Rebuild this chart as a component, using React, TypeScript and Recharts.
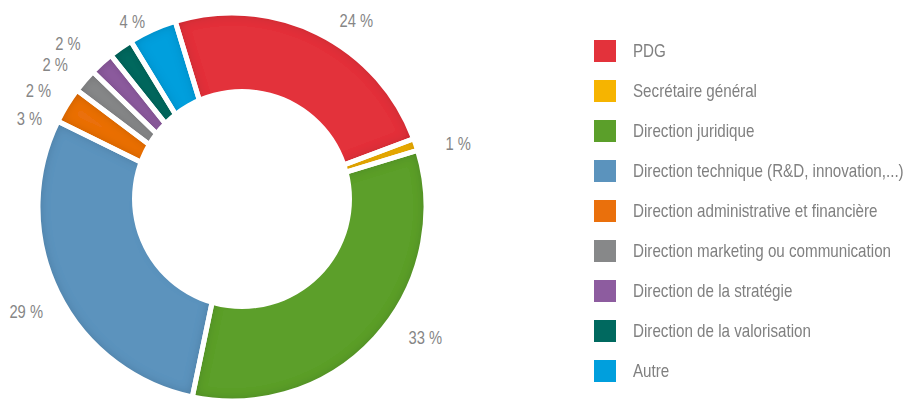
import React from "react";
import { PieChart, Pie, Cell, Legend } from "recharts";

const categories = [
  "PDG",
  "Secrétaire général",
  "Direction juridique",
  "Direction technique (R&D, innovation,...)",
  "Direction administrative et financière",
  "Direction marketing ou communication",
  "Direction de la stratégie",
  "Direction de la valorisation",
  "Autre",
];
const shares = [24, 1, 33, 29, 3, 2, 2, 2, 4];
const colors = [
  "#e3323b", "#f6b400", "#5b9f2a", "#5b93bd", "#ea700c",
  "#878889", "#8d5c9f", "#00695f", "#009fdd",
];

// where each percent label sits: angle nudge (deg) and distance from the centre
const labelShift = [-7.5, -3, 8.5, 1, 8, 9.5, 9, 10, 4];
const labelDist = [224, 235, 233, 231, 221, 226, 227, 232, 211];

const data = categories.map((name, i) => ({ name, value: shares[i] }));
const hole = [{ name: "hole", value: 1 }];

const FONT = '"Liberation Sans", Arial, sans-serif';
const NARROW = 0.82; // no Arial Narrow here, so squeeze the regular face
const RAD = Math.PI / 180;

function renderLabel(props: any) {
  const { cx, cy, midAngle, index, value } = props;
  const a = (midAngle + labelShift[index]) * RAD;
  const d = labelDist[index];
  const x = cx + d * Math.cos(a);
  const y = cy - d * Math.sin(a);
  return (
    <text
      transform={`translate(${x},${y}) scale(${NARROW},1)`}
      textAnchor="middle"
      dominantBaseline="central"
      fill="#868686"
      fontSize={18}
      fontFamily={FONT}
    >
      {value} %
    </text>
  );
}

function LegendBox() {
  return (
    <div style={{ fontFamily: FONT, fontSize: 18.5, color: "#808080" }}>
      {categories.map((c, i) => (
        <div key={c} style={{ display: "flex", alignItems: "center", height: 40 }}>
          <span style={{ width: 22, height: 22, background: colors[i], marginRight: 17, flex: "none" }} />
          <span
            style={{
              whiteSpace: "nowrap",
              display: "inline-block",
              transform: `scaleX(${NARROW})`,
              transformOrigin: "left center",
            }}
          >
            {c}
          </span>
        </div>
      ))}
    </div>
  );
}

export default function App() {
  return (
    <div style={{ position: "relative", width: 911, height: 402 }}>
      <style>{`body{margin:0}`}</style>
      <svg width={0} height={0} style={{ position: "absolute" }}>
        <defs>
          <filter id="innerShade" x="-5%" y="-5%" width="110%" height="110%">
            <feGaussianBlur in="SourceAlpha" stdDeviation={6} result="blur" />
            <feComposite in="SourceAlpha" in2="blur" operator="arithmetic" k2={1} k3={-1} result="edge" />
            <feFlood floodColor="#000" floodOpacity={0.45} />
            <feComposite in2="edge" operator="in" result="shade" />
            <feMerge>
              <feMergeNode in="SourceGraphic" />
              <feMergeNode in="shade" />
            </feMerge>
          </filter>
        </defs>
      </svg>
      <PieChart width={911} height={402} margin={{ top: 0, right: 0, bottom: 0, left: 0 }}>
        <Pie
          data={data}
          dataKey="value"
          nameKey="name"
          cx={232}
          cy={207}
          innerRadius={90}
          outerRadius={194}
          startAngle={107}
          endAngle={-253}
          stroke="none"
          label={renderLabel}
          labelLine={false}
          isAnimationActive={false}
        >
          {data.map((_, i) => (
            <Cell key={i} fill={colors[i]} filter="url(#innerShade)" />
          ))}
        </Pie>
        <Pie
          data={data}
          dataKey="value"
          cx={232}
          cy={207}
          innerRadius={90}
          outerRadius={194}
          startAngle={107}
          endAngle={-253}
          fill="none"
          stroke="#fff"
          strokeWidth={5}
          legendType="none"
          isAnimationActive={false}
        />
        <Pie
          data={hole}
          dataKey="value"
          cx={242}
          cy={199}
          outerRadius={110}
          fill="#fff"
          stroke="none"
          legendType="none"
          isAnimationActive={false}
        />
        <Legend
          layout="vertical"
          align="right"
          verticalAlign="top"
          content={() => <LegendBox />}
          wrapperStyle={{ position: "absolute", left: 594, top: 31, width: 317 }}
        />
      </PieChart>
    </div>
  );
}
